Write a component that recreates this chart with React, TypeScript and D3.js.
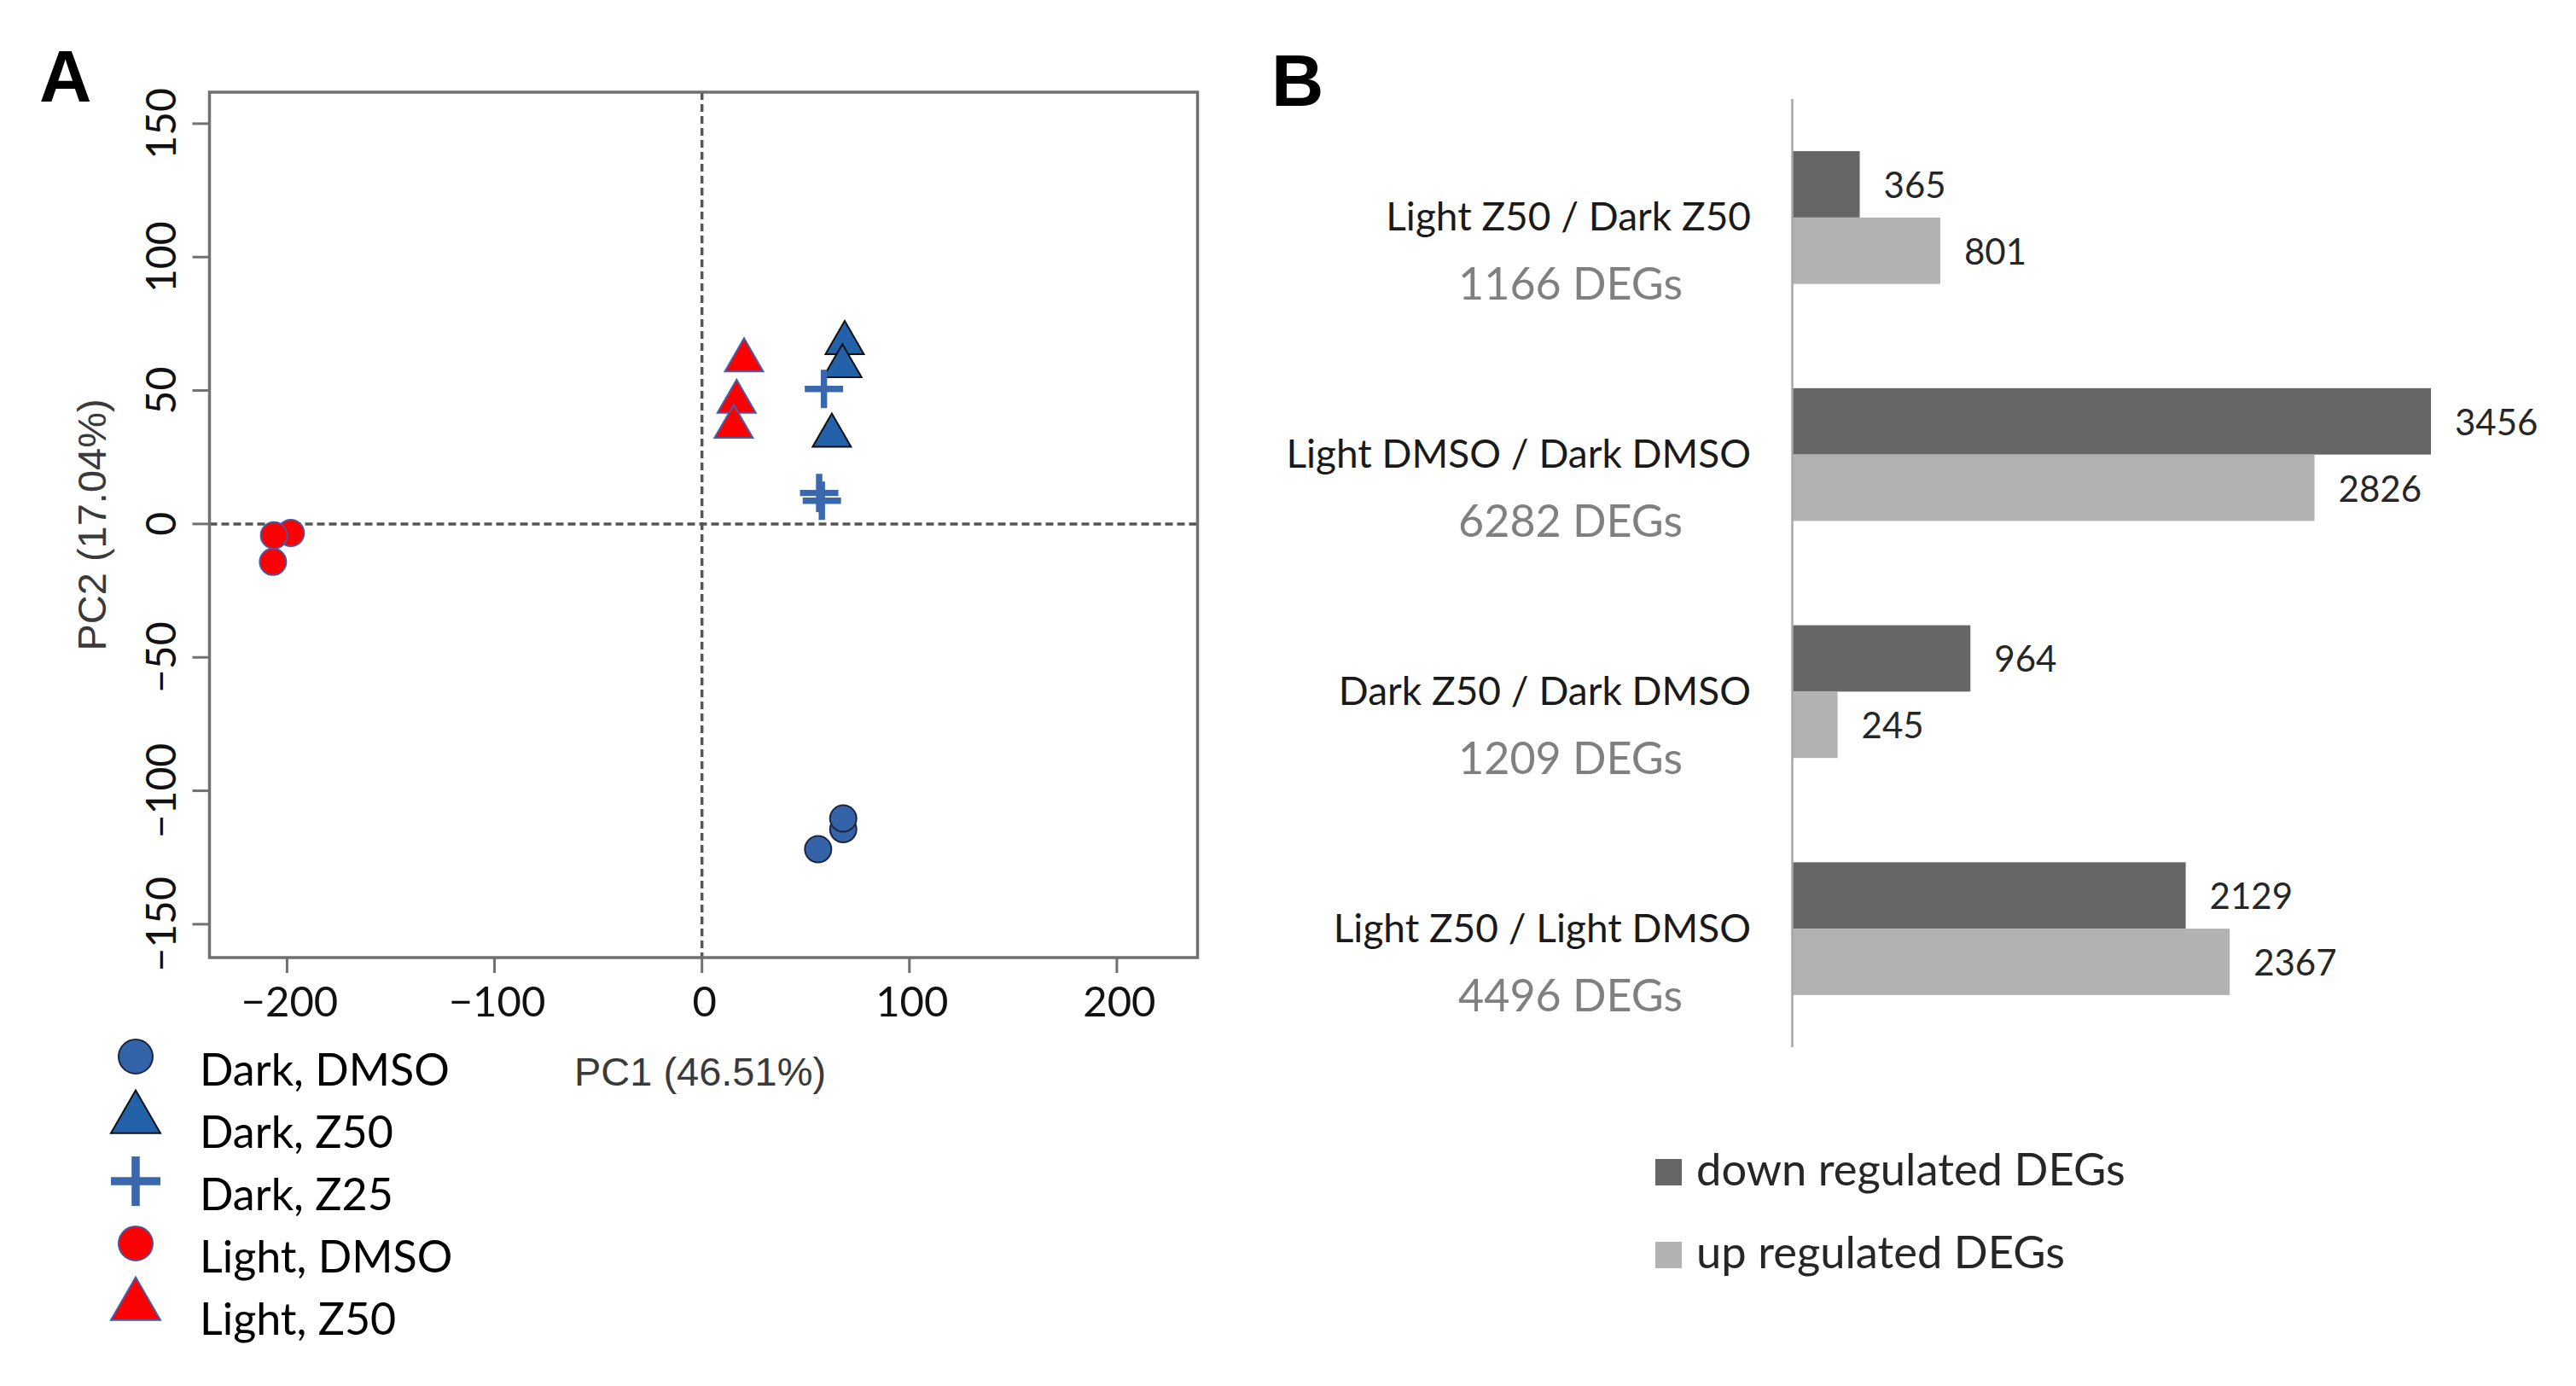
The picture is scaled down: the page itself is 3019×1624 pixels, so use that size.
import React, { useEffect } from 'react';
import * as d3 from 'd3';

// ---- Panel A: PCA scores (PC1, PC2) per replicate ----
const darkDmso: [number, number][] = [[56.0, -121.9], [68.1, -114.4], [68.1, -110.4]];
const darkZ50: [number, number][] = [[68.8, 67.8], [67.7, 59.1], [62.6, 33.1]];
const darkZ25: [number, number][] = [[58.8, 50.6], [56.5, 11.6], [57.8, 8.7]];
const lightDmso: [number, number][] = [[-206.8, -14.2], [-198.2, -3.4], [-206.3, -4.3]];
const lightZ50: [number, number][] = [[20.3, 61.3], [16.7, 45.8], [15.3, 36.4]];

const pc1Ticks = [-200, -100, 0, 100, 200];
const pc2Ticks = [-150, -100, -50, 0, 50, 100, 150];
const pc1Label = 'PC1 (46.51%)';
const pc2Label = 'PC2 (17.04%)';

// ---- Panel B: DEG counts ----
const comparisons = [
  'Light Z50 / Dark Z50',
  'Light DMSO / Dark DMSO',
  'Dark Z50 / Dark DMSO',
  'Light Z50 / Light DMSO',
];
const downDEGs = [365, 3456, 964, 2129];
const upDEGs = [801, 2826, 245, 2367];
const degSeries = ['down regulated DEGs', 'up regulated DEGs'];

const W = 3019;
const H = 1624;
const calibri = 'Lato, "Open Sans", sans-serif';
const arial = '"Liberation Sans", Arial, sans-serif';

type Shape = 'circle' | 'triangle' | 'plus';

const groups: { name: string; pts: [number, number][]; shape: Shape; fill: string; stroke: string }[] = [
  { name: 'Dark, DMSO', pts: darkDmso, shape: 'circle', fill: '#3463a8', stroke: '#1b2540' },
  { name: 'Dark, Z50', pts: darkZ50, shape: 'triangle', fill: '#2361a8', stroke: '#111' },
  { name: 'Dark, Z25', pts: darkZ25, shape: 'plus', fill: '#3b68ad', stroke: '#3b68ad' },
  { name: 'Light, DMSO', pts: lightDmso, shape: 'circle', fill: '#ff0000', stroke: '#4b57a0' },
  { name: 'Light, Z50', pts: lightZ50, shape: 'triangle', fill: '#ff0000', stroke: '#4060b0' },
];

const triPath = (side: number) => {
  const h = (side * Math.sqrt(3)) / 2;
  return `M0,${-(2 * h) / 3}L${side / 2},${h / 3}L${-side / 2},${h / 3}Z`;
};

function Marker({ shape, fill, stroke, cx, cy, size }: { shape: Shape; fill: string; stroke: string; cx: number; cy: number; size: number }) {
  if (shape === 'circle') {
    return <circle cx={cx} cy={cy} r={size} fill={fill} stroke={stroke} strokeWidth={2} />;
  }
  if (shape === 'triangle') {
    return (
      <path d={triPath(size * 2.9)} transform={`translate(${cx},${cy})`} fill={fill} stroke={stroke} strokeWidth={2} strokeLinejoin="miter" />
    );
  }
  const a = size * 1.45;
  return (
    <g stroke={fill} strokeWidth={size * 0.48}>
      <line x1={cx - a} x2={cx + a} y1={cy} y2={cy} />
      <line x1={cx} x2={cx} y1={cy - a} y2={cy + a} />
    </g>
  );
}

function PcaPanel() {
  const box = { left: 245.5, right: 1403.5, top: 108, bottom: 1122 };
  const x = d3.scaleLinear().domain([-237.4, 238.9]).range([box.left, box.right]);
  const y = d3.scaleLinear().domain([-162.5, 161.8]).range([box.bottom, box.top]);
  const fmt = d3.format('d');
  const axisCol = '#707070';

  return (
    <g>
      <text x={46} y={119} fontFamily={arial} fontWeight="bold" fontSize={85} fill="#000">A</text>

      {/* reference lines */}
      <line x1={x(0)} x2={x(0)} y1={box.top} y2={box.bottom} stroke="#555" strokeWidth={3.5} strokeDasharray="9 5" />
      <line x1={box.left} x2={box.right} y1={y(0)} y2={y(0)} stroke="#555" strokeWidth={3.5} strokeDasharray="9 5" />

      {/* points */}
      {groups.map((g) =>
        g.pts.map((p, i) => (
          <Marker key={g.name + i} shape={g.shape} fill={g.fill} stroke={g.stroke} cx={x(p[0])} cy={y(p[1])} size={15.5} />
        ))
      )}

      <rect x={box.left} y={box.top} width={box.right - box.left} height={box.bottom - box.top} fill="none" stroke={axisCol} strokeWidth={3.5} />

      {/* x axis */}
      {pc1Ticks.map((t) => (
        <g key={'x' + t}>
          <line x1={x(t)} x2={x(t)} y1={box.bottom} y2={box.bottom + 18} stroke={axisCol} strokeWidth={3} />
          <text x={x(t) + 3} y={1191} textAnchor="middle" fontFamily={calibri} fontSize={49} fill="#111">{fmt(t)}</text>
        </g>
      ))}

      {/* y axis */}
      {pc2Ticks.map((t) => (
        <g key={'y' + t}>
          <line x1={box.left - 20} x2={box.left} y1={y(t)} y2={y(t)} stroke={axisCol} strokeWidth={3} />
          <text transform={`translate(206,${y(t)}) rotate(-90)`} textAnchor="middle" fontFamily={calibri} fontSize={48} fill="#111">{fmt(t)}</text>
        </g>
      ))}

      <text x={(box.left + box.right) / 2 - 4} y={1272} textAnchor="middle" fontFamily={arial} fontSize={47} fill="#3a3a3a">{pc1Label}</text>
      <text transform={`translate(124,${(box.top + box.bottom) / 2}) rotate(-90)`} textAnchor="middle" fontFamily={arial} fontSize={47} fill="#3a3a3a">{pc2Label}</text>

      {/* legend */}
      {groups.map((g, i) => {
        const base = 1272 + i * 73;
        return (
          <g key={'lg' + g.name}>
            <Marker shape={g.shape} fill={g.fill} stroke={g.stroke} cx={159} cy={base - 34} size={20} />
            <text x={234} y={base} fontFamily={calibri} fontSize={52} fill="#000">{g.name}</text>
          </g>
        );
      })}
    </g>
  );
}

function DegPanel() {
  const y = d3.scaleBand().domain(comparisons).range([116, 1227]).paddingInner(0.44).paddingOuter(0.22);
  const sub = d3.scaleBand().domain(degSeries).range([0, y.bandwidth()]);
  const x = d3.scaleLinear().domain([0, d3.max([...downDEGs, ...upDEGs]) as number]).range([2100.5, 2849]);
  const colors = ['#666666', '#b2b2b2'];
  const series = [downDEGs, upDEGs];

  return (
    <g>
      <text x={1490} y={124} fontFamily={arial} fontWeight="bold" fontSize={85} fill="#000">B</text>

      {comparisons.map((c, i) => {
        const top = y(c) as number;
        const mid = top + y.bandwidth() / 2;
        return (
          <g key={c}>
            {degSeries.map((s, j) => {
              const v = series[j][i];
              const by = top + (sub(s) as number);
              return (
                <g key={s}>
                  <rect x={x(0)} y={by} width={x(v) - x(0)} height={sub.bandwidth()} fill={colors[j]} />
                  <text x={x(v) + 28} y={by + sub.bandwidth() / 2} dominantBaseline="central" fontFamily={calibri} fontSize={42} fill="#262626">{v}</text>
                </g>
              );
            })}
            <text x={2052} y={mid + 15.5} textAnchor="end" fontFamily={calibri} fontSize={46} fill="#1a1a1a">{c}</text>
            <text x={1972} y={mid + 96.5} textAnchor="end" fontFamily={calibri} fontSize={52} fill="#808080">{`${downDEGs[i] + upDEGs[i]} DEGs`}</text>
          </g>
        );
      })}

      <line x1={x(0)} x2={x(0)} y1={116} y2={1227} stroke="#a6a6a6" strokeWidth={2.5} />

      {degSeries.map((s, j) => (
        <g key={'lg' + s}>
          <rect x={1940} y={1358 + j * 97} width={31} height={31} fill={colors[j]} />
          <text x={1988} y={1389 + j * 97} fontFamily={calibri} fontSize={52.5} fill="#262626">{s}</text>
        </g>
      ))}
    </g>
  );
}

export default function App() {
  useEffect(() => {
    document.body.style.margin = '0';
  }, []);
  return (
    <svg width={W} height={H} style={{ position: 'absolute', left: 0, top: 0, background: '#fff' }}>
      <rect width={W} height={H} fill="#fff" />
      <PcaPanel />
      <DegPanel />
    </svg>
  );
}
